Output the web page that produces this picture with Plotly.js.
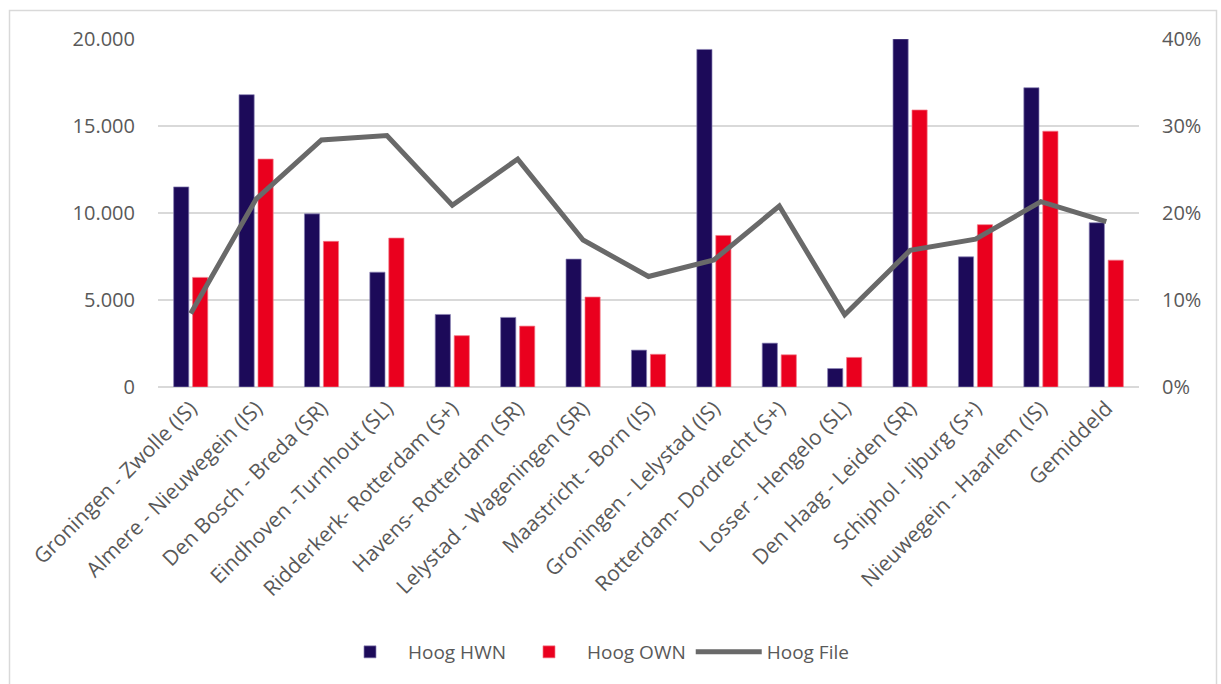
<!DOCTYPE html>
<html>
<head>
<meta charset="utf-8">
<script src="https://cdn.plot.ly/plotly-3.0.1.min.js"></script>
<style>
  html, body { margin: 0; padding: 0; background: #ffffff; }
  #chart { width: 1221px; height: 684px; }
</style>
</head>
<body>
<div id="chart"></div>
<script>
const categories = [
  "Groningen - Zwolle (IS)",
  "Almere - Nieuwegein (IS)",
  "Den Bosch - Breda (SR)",
  "Eindhoven -Turnhout (SL)",
  "Ridderkerk- Rotterdam (S+)",
  "Havens- Rotterdam (SR)",
  "Lelystad - Wageningen (SR)",
  "Maastricht - Born (IS)",
  "Groningen - Lelystad (IS)",
  "Rotterdam- Dordrecht (S+)",
  "Losser - Hengelo (SL)",
  "Den Haag - Leiden (SR)",
  "Schiphol - Ijburg (S+)",
  "Nieuwegein - Haarlem (IS)",
  "Gemiddeld"
];
const hoogHWN = [11500, 16800, 9950, 6600, 4170, 4000, 7350, 2120, 19400, 2520, 1060, 20000, 7480, 17200, 9440];
const hoogOWN = [6300, 13100, 8370, 8560, 2950, 3500, 5170, 1880, 8710, 1850, 1700, 15920, 9330, 14700, 7290];
const hoogFile = [0.0846, 0.216, 0.284, 0.289, 0.209, 0.262, 0.169, 0.127, 0.146, 0.208, 0.083, 0.157, 0.170, 0.213, 0.190];

const leftTicks = [0, 5000, 10000, 15000, 20000];
const rightTicks = [0, 0.1, 0.2, 0.3, 0.4];

const FONT = "'Open Sans', 'Noto Sans', sans-serif";
const TXT = "#595959";

const traces = [
  {
    type: "bar", name: "Hoog HWN", x: categories, y: hoogHWN,
    marker: { color: "#1C0A59", line: { color: "#8a82b4", width: 0.7 } },
    hoverinfo: "x+y"
  },
  {
    type: "bar", name: "Hoog OWN", x: categories, y: hoogOWN,
    marker: { color: "#EA001E", line: { color: "#f27a88", width: 0.7 } },
    hoverinfo: "x+y"
  },
  {
    type: "scatter", mode: "lines", name: "Hoog File", x: categories, y: hoogFile,
    yaxis: "y2",
    line: { color: "#696969", width: 5 },
    hoverinfo: "x+y"
  }
];

const W = 1221, H = 684;
const ml = 158, mr = 82, mt = 39, mb = 297;
const pw = W - ml - mr, ph = H - mt - mb;

const layout = {
  width: W, height: H,
  margin: { l: ml, r: mr, t: mt, b: mb, pad: 0 },
  paper_bgcolor: "#ffffff",
  plot_bgcolor: "#ffffff",
  font: { family: FONT, color: TXT, size: 20 },
  barmode: "group",
  bargap: 0.42,
  bargroupgap: 0.2,
  showlegend: true,
  legend: {
    orientation: "h",
    x: (593 - ml) / pw, xanchor: "center",
    y: -(652 - (H - mb)) / ph, yanchor: "middle",
    font: { family: FONT, size: 19, color: TXT },
    itemwidth: 66,
    traceorder: "normal",
    bgcolor: "rgba(0,0,0,0)"
  },
  separators: ",.",
  xaxis: {
    type: "category",
    tickangle: -45,
    tickfont: { family: FONT, size: 21, color: TXT },
    showgrid: false,
    showline: false,
    zeroline: false,
    ticks: "",
    automargin: false,
    ticklabelstandoff: 4
  },
  yaxis: {
    range: [0, 20000],
    tickvals: leftTicks,
    tickformat: ",d",
    tickfont: { family: FONT, size: 20, color: TXT },
    showgrid: true,
    gridcolor: "#D9D9D9",
    gridwidth: 1.4,
    zeroline: true,
    zerolinecolor: "#D9D9D9",
    zerolinewidth: 1.6,
    showline: false,
    ticks: "",
    ticklabelstandoff: 22,
    automargin: false,
    fixedrange: true
  },
  yaxis2: {
    overlaying: "y",
    side: "right",
    range: [0, 0.4],
    tickvals: rightTicks,
    tickformat: ".0%",
    tickfont: { family: FONT, size: 20, color: TXT },
    showgrid: false,
    zeroline: false,
    showline: false,
    ticks: "",
    ticklabelstandoff: 22,
    automargin: false,
    fixedrange: true
  },
  shapes: [
    {
      type: "rect", xref: "paper", yref: "paper", layer: "below",
      x0: (9.5 - ml) / pw, x1: (1216.5 - ml) / pw,
      y0: -(H + 5 - (H - mb)) / ph, y1: 1 + (mt - 10.5) / ph,
      line: { color: "#D9D9D9", width: 1.5 },
      fillcolor: "rgba(0,0,0,0)"
    }
  ]
};

Plotly.newPlot("chart", traces, layout, { displayModeBar: false, staticPlot: true });
</script>
</body>
</html>
